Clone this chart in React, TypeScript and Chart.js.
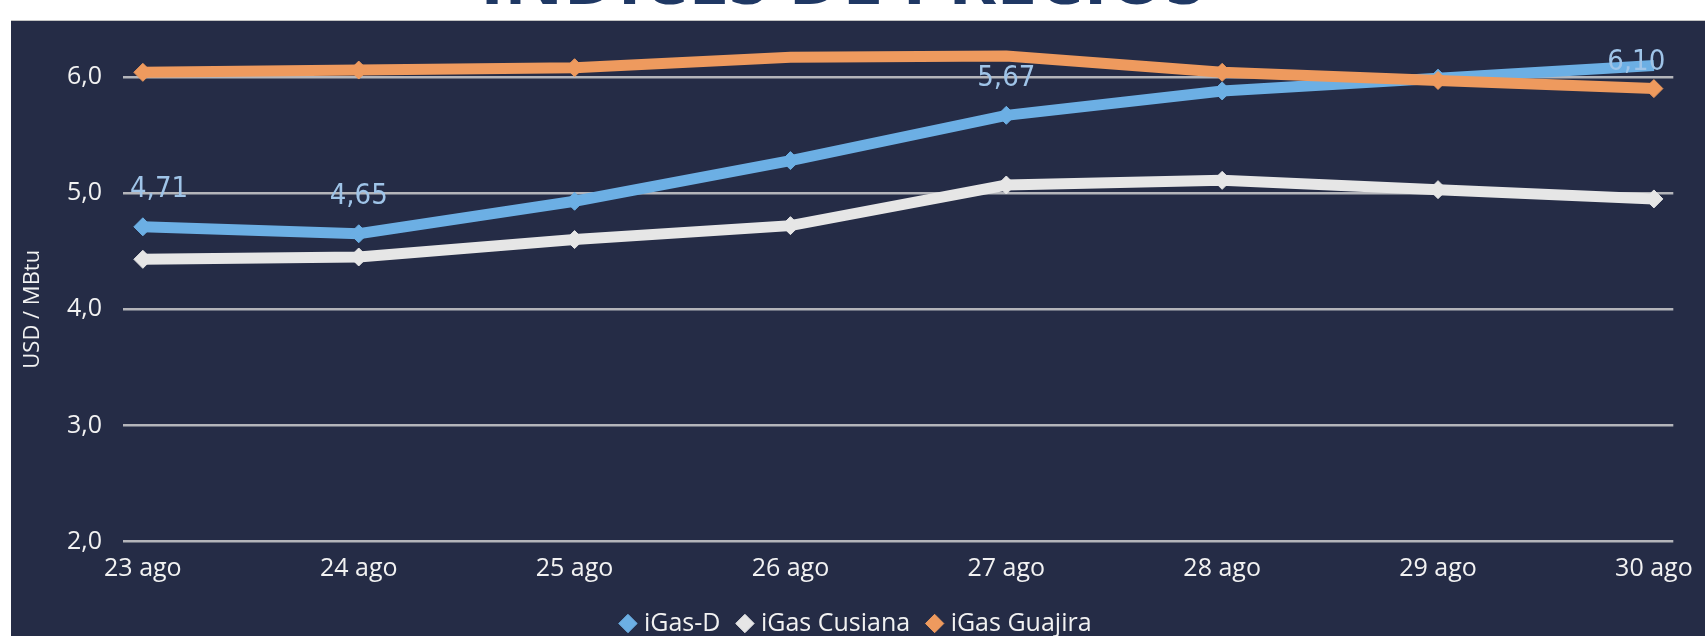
import React, { useEffect, useRef } from "react";
import { Chart, registerables } from "chart.js";

Chart.register(...registerables);

const dates = ["23 ago", "24 ago", "25 ago", "26 ago", "27 ago", "28 ago", "29 ago", "30 ago"];
const iGasD = [4.71, 4.65, 4.93, 5.28, 5.67, 5.88, 5.99, 6.1];
const iGasCusiana = [4.43, 4.45, 4.6, 4.72, 5.07, 5.11, 5.03, 4.95];
const iGasGuajira = [6.04, 6.06, 6.08, 6.17, 6.18, 6.04, 5.97, 5.9];
const yTicks = [2, 3, 4, 5, 6];
const labelIndices = [0, 1, 4, 7];

const BLUE = "#6cafe4";
const WHITE = "#e6e6e6";
const ORANGE = "#ee9a5e";
const PANEL = "#252c46";
const TEXT = "#f2f2f2";

const fmt = (v: number, d: number) => v.toFixed(d).replace(".", ",");

const valueLabels = {
  id: "valueLabels",
  afterDatasetsDraw(chart: any) {
    const meta = chart.getDatasetMeta(0);
    const { ctx, chartArea } = chart;
    ctx.save();
    ctx.font = '29px "DejaVu Sans Condensed", "DejaVu Sans"';
    try { (ctx as any).fontStretch = "condensed"; } catch (e) {}
    ctx.fillStyle = "#9fc4e8";
    ctx.textAlign = "center";
    ctx.textBaseline = "middle";
    labelIndices.forEach((i) => {
      const pt = meta.data[i];
      if (!pt) return;
      const text = fmt(iGasD[i], 2);
      const w = ctx.measureText(text).width;
      let x = pt.x;
      x = Math.max(x, chartArea.left + 7 + w / 2);
      x = Math.min(x, chartArea.right - 8 - w / 2);
      const y = Math.max(pt.y - 37, chartArea.top - 15);
      ctx.fillText(text, x, y);
    });
    ctx.restore();
  },
};

export default function App() {
  const ref = useRef<HTMLCanvasElement | null>(null);

  useEffect(() => {
    if (!ref.current) return;
    const mk = (arr: number[]) => arr.map((v, i) => ({ x: i, y: v }));
    const ds = (label: string, data: number[], color: string, order: number) => ({
      label,
      data: mk(data),
      borderColor: color,
      backgroundColor: color,
      pointBackgroundColor: color,
      pointBorderColor: color,
      borderWidth: 11,
      pointRadius: 9,
      pointBorderWidth: 1,
      pointStyle: "rectRot",
      tension: 0,
      clip: false,
      order,
    });
    const chart = new Chart(ref.current, {
      type: "line",
      data: {
        datasets: [
          ds("iGas-D", iGasD, BLUE, 3),
          ds("iGas Cusiana", iGasCusiana, WHITE, 2),
          ds("iGas Guajira", iGasGuajira, ORANGE, 1),
        ] as any,
      },
      options: {
        animation: false,
        responsive: true,
        maintainAspectRatio: false,
        layout: { padding: { left: 26, right: 26, top: 56, bottom: 0 } },
        plugins: {
          tooltip: { enabled: false },
          legend: {
            position: "bottom",
            align: "center",
            labels: {
              usePointStyle: true,
              pointStyle: "rectRot",
              boxWidth: 7,
              boxHeight: 13,
              padding: 21,
              color: TEXT,
              font: { family: '"Open Sans"', size: 25 },
              sort: (a: any, b: any) => a.datasetIndex - b.datasetIndex,
            },
          },
        },
        scales: {
          x: {
            type: "linear",
            min: -0.092,
            max: 7.09,
            grid: { display: false, drawTicks: false },
            border: { display: false },
            afterBuildTicks: (scale: any) => {
              scale.ticks = dates.map((_, i) => ({ value: i }));
            },
            afterFit: (scale: any) => {
              scale.height = 48.5;
            },
            ticks: {
              padding: 12,
              color: TEXT,
              font: { family: '"Open Sans"', size: 25 },
              maxRotation: 0,
              autoSkip: false,
              callback: (v: any) => dates[Math.round(Number(v))] ?? "",
            },
          },
          y: {
            min: 2,
            max: 6,
            grid: { color: "#b4b5ba", lineWidth: 2.5, drawTicks: false },
            border: { display: false },
            afterBuildTicks: (scale: any) => {
              scale.ticks = yTicks.map((v) => ({ value: v }));
            },
            afterFit: (scale: any) => {
              scale.width = 86;
            },
            ticks: {
              padding: 21,
              color: TEXT,
              font: { family: '"Open Sans"', size: 25 },
              callback: (v: any) => fmt(Number(v), 1),
            },
            title: {
              display: true,
              text: "USD / MBtu",
              color: TEXT,
              font: { family: '"Open Sans"', size: 22 },
              padding: { top: -17, bottom: 0 },
            },
          },
        },
      },
      plugins: [valueLabels],
    } as any);
    return () => chart.destroy();
  }, []);

  return (
    <div style={{ position: "absolute", left: 0, top: 0, width: 1705, height: 636, overflow: "hidden", background: "#ffffff" }}>
      <div
        style={{
          position: "absolute",
          left: 0,
          top: -61,
          width: 1686,
          textAlign: "center",
          font: '700 73px/73px "Open Sans"',
          color: "#1f3864",
          whiteSpace: "nowrap",
        }}
      >
        ÍNDICES DE PRECIOS
      </div>
      <div
        style={{
          position: "absolute",
          left: 11,
          top: 20,
          width: 1694,
          height: 616,
          background: PANEL,
          borderTop: "1px solid #c3c3c3",
          overflow: "hidden",
        }}
      >
        <div style={{ position: "relative", width: 1694, height: 625 }}>
          <canvas ref={ref} />
        </div>
      </div>
    </div>
  );
}
